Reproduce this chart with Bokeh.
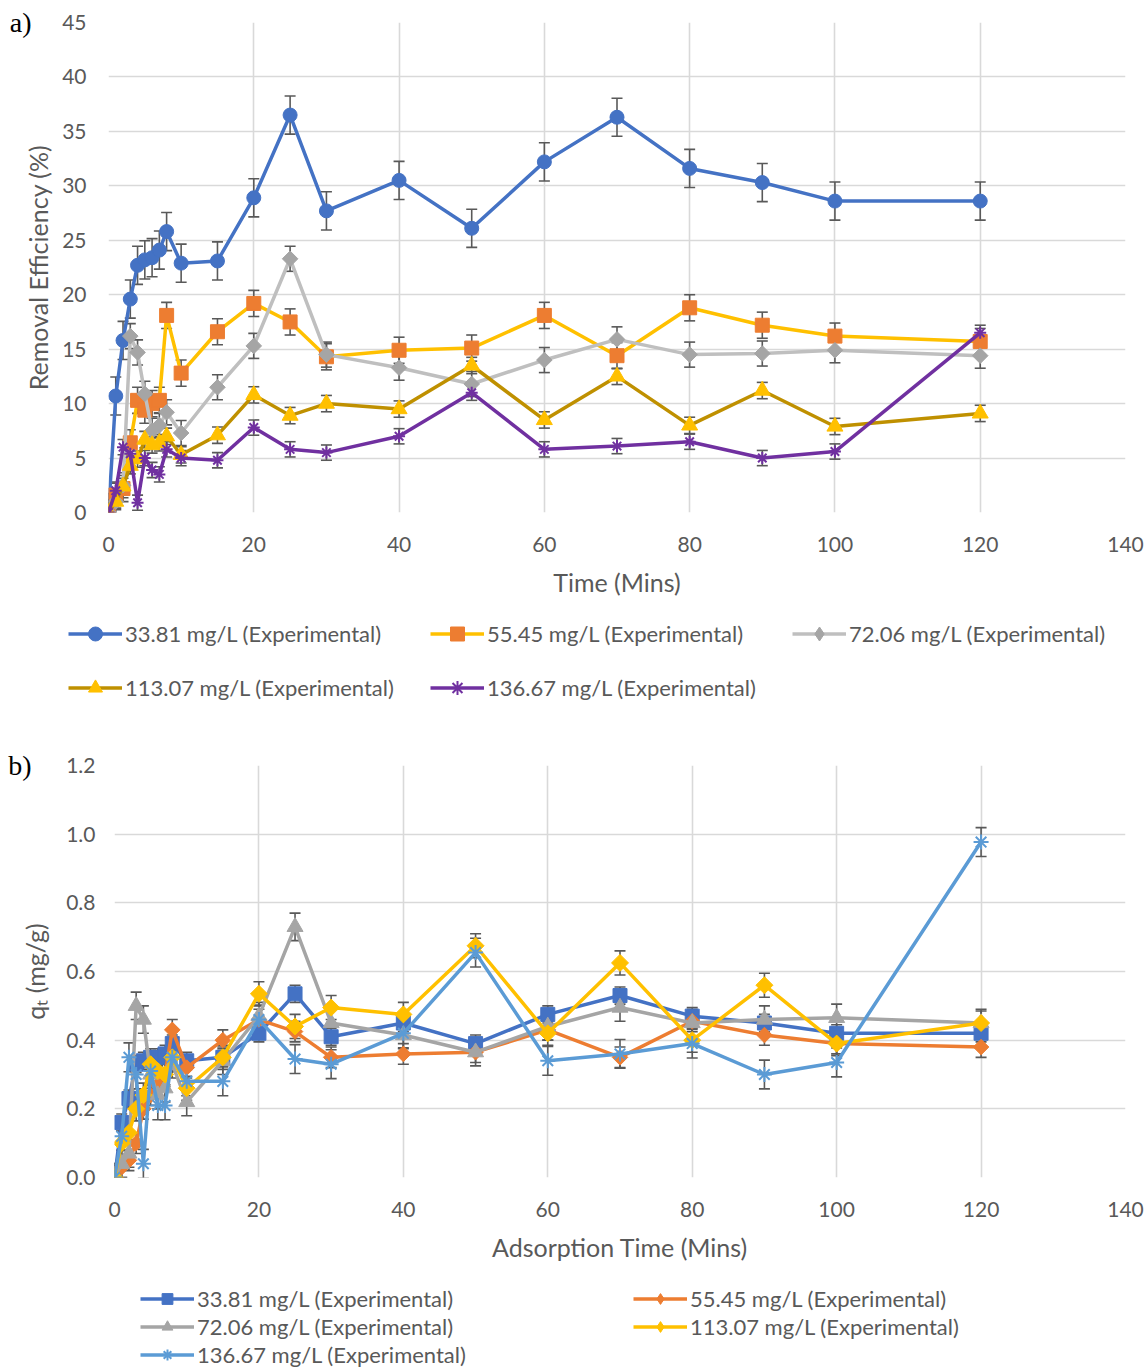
import numpy as np
from bokeh.plotting import figure
from bokeh.models import (ColumnDataSource, Whisker, TeeHead, Range1d, FixedTicker,
                          Legend, LegendItem, NumeralTickFormatter, LinearAxis)
from bokeh.layouts import column, row
from bokeh.embed import file_html
from bokeh.resources import INLINE

# ---------------- data ----------------
time_min = [0, 1, 2, 3, 4, 5, 6, 7, 8, 10, 15, 20, 25, 30, 40, 50, 60, 70, 80, 90, 100, 120]

# (a) removal efficiency (%)
re_3381 = [0, 10.7, 15.8, 19.6, 22.7, 23.2, 23.4, 24.1, 25.8, 22.9, 23.1, 28.9, 36.5, 27.7, 30.5, 26.1, 32.2, 36.3, 31.6, 30.3, 28.6, 28.6]
re_5545 = [0, 1.6, 2.2, 6.4, 10.3, 9.4, 10.0, 10.3, 18.1, 12.8, 16.6, 19.2, 17.5, 14.3, 14.9, 15.1, 18.1, 14.4, 18.8, 17.2, 16.2, 15.7]
re_7206 = [0, 1.0, 2.5, 16.2, 14.7, 10.9, 7.5, 8.0, 9.2, 7.3, 11.5, 15.3, 23.3, 14.5, 13.3, 11.8, 14.0, 15.9, 14.5, 14.6, 14.9, 14.4]
re_11307 = [0, 1.0, 2.4, 4.3, 4.9, 6.7, 6.2, 6.4, 7.0, 5.3, 7.1, 10.8, 8.9, 10.0, 9.5, 13.5, 8.5, 12.5, 8.0, 11.2, 7.9, 9.1]
re_13667 = [0, 2.0, 6.0, 5.4, 0.9, 5.0, 3.9, 3.5, 5.8, 5.0, 4.8, 7.8, 5.8, 5.5, 7.0, 11.0, 5.8, 6.1, 6.5, 5.0, 5.6, 16.5]
re_err = [1.75, 1.2, 1.15, 0.75, 0.7]

# (b) q_t (mg/g)
qt_3381 = [0.0, 0.16, 0.23, 0.33, 0.34, 0.35, 0.35, 0.36, 0.39, 0.34, 0.35, 0.42, 0.535, 0.41, 0.45, 0.39, 0.475, 0.53, 0.47, 0.45, 0.42, 0.42]
qt_5545 = [0.0, 0.03, 0.05, 0.10, 0.20, 0.24, 0.27, 0.30, 0.43, 0.32, 0.40, 0.46, 0.425, 0.35, 0.36, 0.365, 0.43, 0.35, 0.455, 0.415, 0.39, 0.38]
qt_7206 = [0.0, 0.04, 0.07, 0.50, 0.46, 0.30, 0.24, 0.26, 0.33, 0.22, 0.34, 0.47, 0.73, 0.45, 0.415, 0.365, 0.44, 0.495, 0.45, 0.46, 0.465, 0.45]
qt_11307 = [0.0, 0.10, 0.13, 0.20, 0.24, 0.33, 0.31, 0.30, 0.35, 0.26, 0.35, 0.535, 0.44, 0.495, 0.475, 0.675, 0.42, 0.625, 0.40, 0.56, 0.39, 0.45]
qt_13667 = [0.0, 0.12, 0.35, 0.30, 0.04, 0.31, 0.21, 0.21, 0.35, 0.28, 0.28, 0.46, 0.345, 0.33, 0.42, 0.655, 0.34, 0.36, 0.39, 0.30, 0.335, 0.977]
qt_err = [0.025, 0.03, 0.04, 0.035, 0.042]

labels = ["33.81 mg/L (Experimental)", "55.45 mg/L (Experimental)", "72.06 mg/L (Experimental)",
          "113.07 mg/L (Experimental)", "136.67 mg/L (Experimental)"]

x_ticks = [0, 20, 40, 60, 80, 100, 120, 140]
a_ticks = [0, 5, 10, 15, 20, 25, 30, 35, 40, 45]
b_ticks = [0.0, 0.2, 0.4, 0.6, 0.8, 1.0, 1.2]

FONT = "Lato"
TXT = "#595959"
GRID = "#D9D9D9"
ERRC = "#595959"

# style per series: (line colour, marker colour, marker, size, angle)
style_a = [
    ("#4472C4", "#4472C4", "circle", 14, 0.0),
    ("#FFC000", "#ED7D31", "square", 14, 0.0),
    ("#BFBFBF", "#A5A5A5", "square", 11, np.pi / 4),
    ("#BF9000", "#FFC000", "triangle", 16, 0.0),
    ("#7030A0", "#7030A0", "asterisk", 12, 0.0),
]
style_b = [
    ("#4472C4", "#4472C4", "square", 14, 0.0),
    ("#ED7D31", "#ED7D31", "square", 11, np.pi / 4),
    ("#A5A5A5", "#A5A5A5", "triangle", 16, 0.0),
    ("#FFC000", "#FFC000", "square", 12, np.pi / 4),
    ("#5B9BD5", "#5B9BD5", "asterisk", 15, 0.0),
]


def make_fig(height, border, y_end, y_ticks, xlabel, ylabel, yfmt, tag,
             ylab_standoff, ytitle_standoff, tag_standoff):
    left, right, top, bottom = border
    p = figure(width=1146, height=height, output_backend="svg", toolbar_location=None,
               x_range=Range1d(0, 140), y_range=Range1d(0, y_end),
               min_border_left=left, min_border_right=right,
               min_border_top=top, min_border_bottom=bottom)
    p.outline_line_color = None
    p.background_fill_color = "white"
    for ax in (p.xaxis[0], p.yaxis[0]):
        ax.axis_line_color = None
        ax.major_tick_line_color = None
        ax.minor_tick_line_color = None
        ax.major_label_text_font = FONT
        ax.major_label_text_font_size = "21px"
        ax.major_label_text_color = TXT
        ax.axis_label_text_font = FONT
        ax.axis_label_text_font_size = "25px"
        ax.axis_label_text_font_style = "normal"
        ax.axis_label_text_color = TXT
    p.xaxis.ticker = FixedTicker(ticks=x_ticks)
    p.yaxis.ticker = FixedTicker(ticks=y_ticks)
    if yfmt:
        p.yaxis.formatter = NumeralTickFormatter(format=yfmt)
    p.xaxis.axis_label = xlabel
    p.yaxis.axis_label = ylabel
    p.xaxis.major_label_standoff = 18
    p.yaxis.major_label_standoff = ylab_standoff
    p.xaxis.axis_label_standoff = 12
    p.yaxis.axis_label_standoff = ytitle_standoff
    p.xgrid.ticker = FixedTicker(ticks=x_ticks)
    p.ygrid.ticker = FixedTicker(ticks=y_ticks)
    for g in (p.xgrid[0], p.ygrid[0]):
        g.grid_line_color = GRID
        g.grid_line_width = 1.6
    # panel tag ("a)" / "b)") drawn as the single label of an outer left axis
    tag_ax = LinearAxis(ticker=FixedTicker(ticks=[y_end]), major_label_overrides={y_end: tag},
                        axis_line_color=None, major_tick_line_color=None,
                        minor_tick_line_color=None, major_label_standoff=tag_standoff,
                        major_label_text_font="Liberation Serif",
                        major_label_text_font_size="28px", major_label_text_color="black")
    p.add_layout(tag_ax, "left")
    return p


def add_series(p, ys, err, styles):
    for i, (y, e, st) in enumerate(zip(ys, err, styles)):
        lc, mc, mk, sz, ang = st
        src = ColumnDataSource(dict(t=time_min, y=y,
                                    lo=[v - e for v in y], hi=[v + e for v in y]))
        w = Whisker(base="t", lower="lo", upper="hi", source=src, level="underlay",
                    line_color=ERRC, line_width=1.6,
                    upper_head=TeeHead(size=11, line_color=ERRC, line_width=1.6),
                    lower_head=TeeHead(size=11, line_color=ERRC, line_width=1.6))
        p.add_layout(w)
        p.line("t", "y", source=src, line_color=lc, line_width=3.5)
        if mk == "asterisk":
            p.scatter("t", "y", source=src, marker=mk, size=sz, angle=ang,
                      line_color=mc, line_width=2, fill_color=None)
        else:
            p.scatter("t", "y", source=src, marker=mk, size=sz, angle=ang,
                      line_color=mc, fill_color=mc, line_width=1)


def legend_fig(height, styles, ncols, loc, item_h, label_width, spacing):
    f = figure(width=1146, height=height, output_backend="svg", toolbar_location=None,
               x_range=Range1d(0, 1), y_range=Range1d(0, 1), min_border=0,
               x_axis_location=None, y_axis_location=None)
    f.outline_line_color = None
    f.grid.visible = False
    items = []
    for lab, (lc, mc, mk, sz, ang) in zip(labels, styles):
        # legend-key renderers only (their points lie outside the visible range)
        src = ColumnDataSource(dict(x=[-5, -4], y=[-5, -5]))
        lr = f.line("x", "y", source=src, line_color=lc, line_width=3.5)
        key_marker = "diamond" if ang != 0 else mk
        if mk == "asterisk":
            mr = f.scatter("x", "y", source=src, marker=key_marker, size=sz,
                           line_color=mc, line_width=2, fill_color=None)
        else:
            mr = f.scatter("x", "y", source=src, marker=key_marker, size=sz,
                           line_color=mc, fill_color=mc, line_width=1)
        items.append(LegendItem(label=lab, renderers=[lr, mr]))
    leg = Legend(items=items, location=loc, orientation="horizontal", ncols=ncols,
                 glyph_width=54, glyph_height=item_h, label_height=item_h,
                 label_width=label_width, label_standoff=3, spacing=spacing,
                 padding=0, margin=0, border_line_alpha=0, background_fill_alpha=0,
                 label_text_font=FONT, label_text_font_size="22px", label_text_color=TXT)
    f.add_layout(leg)
    return f


# ---------------- panel a ----------------
pa = make_fig(610, (108, 21, 22, 98), 45, a_ticks, "Time (Mins)", "Removal Efficiency (%)",
              None, "a)", 16, 6, -17)
add_series(pa, [re_3381, re_5545, re_7206, re_11307, re_13667], re_err, style_a)
la = legend_fig(130, style_a, 3, (68, 35), 35, 286, 19)

# ---------------- panel b ----------------
pb = make_fig(540, (114, 21, 25, 103), 1.2, b_ticks, "Adsorption Time (Mins)", "qₜ (mg/g)",
              "0.0", "b)", 13, 13, -20)
add_series(pb, [qt_3381, qt_5545, qt_7206, qt_11307, qt_13667], qt_err, style_b)
lb = legend_fig(89, style_b, 2, (140, 1), 27, 435, 1)

layout = column(row(pa), row(la), row(pb), row(lb), spacing=0)
open("out.html", "w").write(file_html(layout, INLINE))
